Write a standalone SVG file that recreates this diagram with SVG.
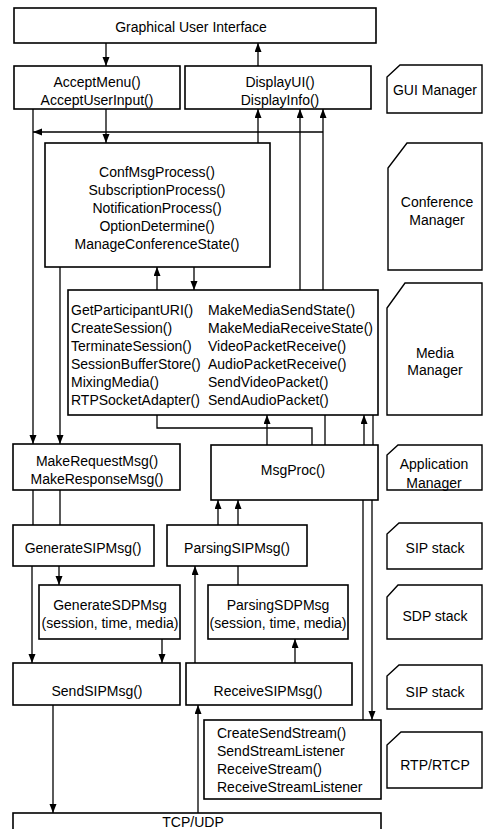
<svg xmlns="http://www.w3.org/2000/svg" width="484" height="829" viewBox="0 0 484 829">
  <style>
    .box { fill: #ffffff; stroke: #000000; stroke-width: 1.6; }
    .tag { fill: #ffffff; stroke: #000000; stroke-width: 1.4; }
    .ln { fill: none; stroke: #000000; stroke-width: 1.3; }
    .arr { fill: none; stroke: #000000; stroke-width: 1.3; marker-end: url(#head); }
    text { font-family: "Liberation Sans", Arial, sans-serif; font-size: 14px; fill: #000000; dominant-baseline: central; }
    .c { text-anchor: middle; }
  </style>
  <defs>
    <marker id="head" markerUnits="userSpaceOnUse" markerWidth="10" markerHeight="8" refX="9" refY="3.5" orient="auto">
      <path d="M0,0 L9,3.5 L0,7 Z" fill="#000000"/>
    </marker>
  </defs>
  <rect width="484" height="829" fill="#ffffff"/>

  <!-- connectors -->
  <g id="connectors">
    <path class="arr" d="M106,43 V66"/>
    <path class="arr" d="M258,66 V43"/>
    <path class="arr" d="M106,109 V143"/>
    <path class="arr" d="M33,109 V444"/>
    <path class="arr" d="M323,132 H33"/>
    <path class="arr" d="M323,290 V109"/>
    <path class="arr" d="M300,290 V109"/>
    <path class="arr" d="M258,143 V109"/>
    <path class="arr" d="M60,267 V444"/>
    <path class="arr" d="M157,290 V267"/>
    <path class="arr" d="M194,267 V290"/>
    <path class="ln" d="M157,415 V428 H312 V445"/>
    <path class="arr" d="M267,445 V415"/>
    <path class="ln" d="M325,415 V445"/>
    <path class="arr" d="M364,445 V415"/>
    <path class="ln" d="M373,415 V445"/>
    <path class="ln" d="M363,500 V720"/>
    <path class="arr" d="M372,500 V720"/>
    <path class="ln" d="M33,490 V525"/>
    <path class="ln" d="M60,490 V525"/>
    <path class="arr" d="M218,525 V500"/>
    <path class="arr" d="M238,525 V500"/>
    <path class="arr" d="M59,566 V585"/>
    <path class="arr" d="M32,566 V663"/>
    <path class="arr" d="M162,639 V663"/>
    <path class="arr" d="M195,663 V566"/>
    <path class="ln" d="M238,566 V585"/>
    <path class="arr" d="M295,663 V639"/>
    <path class="arr" d="M53,705 V813"/>
    <path class="arr" d="M198,813 V705"/>
  </g>

  <!-- component boxes -->
  <g id="gui">
    <rect class="box" x="14" y="8" width="362" height="35"/>
    <text class="c" x="191" y="27">Graphical User Interface</text>
  </g>
  <g id="accept-menu">
    <rect class="box" x="14" y="66" width="166" height="43"/>
    <text class="c" x="97" y="82">AcceptMenu()</text>
    <text class="c" x="97" y="100">AcceptUserInput()</text>
  </g>
  <g id="display-ui">
    <rect class="box" x="185" y="66" width="186" height="43"/>
    <text class="c" x="280" y="82">DisplayUI()</text>
    <text class="c" x="280" y="100">DisplayInfo()</text>
  </g>
  <g id="conference">
    <rect class="box" x="45" y="143" width="225" height="124"/>
    <text class="c" x="157" y="172">ConfMsgProcess()</text>
    <text class="c" x="157" y="190">SubscriptionProcess()</text>
    <text class="c" x="157" y="208">NotificationProcess()</text>
    <text class="c" x="157" y="226">OptionDetermine()</text>
    <text class="c" x="157" y="244">ManageConferenceState()</text>
  </g>
  <g id="media">
    <rect class="box" x="68" y="290" width="310" height="125"/>
    <text x="71" y="310">GetParticipantURI()</text>
    <text x="71" y="328">CreateSession()</text>
    <text x="71" y="346">TerminateSession()</text>
    <text x="71" y="364">SessionBufferStore()</text>
    <text x="71" y="382">MixingMedia()</text>
    <text x="71" y="400">RTPSocketAdapter()</text>
    <text x="208" y="310">MakeMediaSendState()</text>
    <text x="208" y="328">MakeMediaReceiveState()</text>
    <text x="208" y="346">VideoPacketReceive()</text>
    <text x="208" y="364">AudioPacketReceive()</text>
    <text x="208" y="382">SendVideoPacket()</text>
    <text x="208" y="400">SendAudioPacket()</text>
  </g>
  <g id="make-request">
    <rect class="box" x="13" y="444" width="167" height="46"/>
    <text class="c" x="97" y="461">MakeRequestMsg()</text>
    <text class="c" x="97" y="479">MakeResponseMsg()</text>
  </g>
  <g id="msg-proc">
    <rect class="box" x="211" y="445" width="167" height="55"/>
    <text class="c" x="293" y="470">MsgProc()</text>
  </g>
  <g id="generate-sip">
    <rect class="box" x="13" y="525" width="141" height="41"/>
    <text class="c" x="83" y="548">GenerateSIPMsg()</text>
  </g>
  <g id="parsing-sip">
    <rect class="box" x="167" y="525" width="140" height="41"/>
    <text class="c" x="237" y="548">ParsingSIPMsg()</text>
  </g>
  <g id="generate-sdp">
    <rect class="box" x="39" y="585" width="141" height="54"/>
    <text class="c" x="110" y="605">GenerateSDPMsg</text>
    <text class="c" x="110" y="623">(session, time, media)</text>
  </g>
  <g id="parsing-sdp">
    <rect class="box" x="208" y="585" width="140" height="54"/>
    <text class="c" x="278" y="605">ParsingSDPMsg</text>
    <text class="c" x="278" y="623">(session, time, media)</text>
  </g>
  <g id="send-sip">
    <rect class="box" x="13" y="663" width="167" height="42"/>
    <text class="c" x="97" y="691">SendSIPMsg()</text>
  </g>
  <g id="receive-sip">
    <rect class="box" x="186" y="663" width="166" height="42"/>
    <text class="c" x="268" y="691">ReceiveSIPMsg()</text>
  </g>
  <g id="rtp">
    <rect class="box" x="204" y="720" width="177" height="79"/>
    <text x="217" y="733">CreateSendStream()</text>
    <text x="217" y="751">SendStreamListener</text>
    <text x="217" y="769">ReceiveStream()</text>
    <text x="217" y="787">ReceiveStreamListener</text>
  </g>
  <g id="tcp-udp">
    <rect class="box" x="13" y="813" width="368" height="30"/>
    <text class="c" x="193" y="821.5">TCP/UDP</text>
  </g>

  <!-- layer tags -->
  <g id="tag-gui">
    <path class="tag" d="M400,65 H482 V113 H387 V77 Z"/>
    <text class="c" x="435" y="90">GUI Manager</text>
  </g>
  <g id="tag-conference">
    <path class="tag" d="M407,143 H482 V270 H388 V168 Z"/>
    <text class="c" x="437" y="202">Conference</text>
    <text class="c" x="437" y="220">Manager</text>
  </g>
  <g id="tag-media">
    <path class="tag" d="M405,283 H482 V415 H387 V308 Z"/>
    <text class="c" x="435" y="353">Media</text>
    <text class="c" x="435" y="370">Manager</text>
  </g>
  <g id="tag-application">
    <path class="tag" d="M398,445 H482 V490 H387 V455 Z"/>
    <text class="c" x="434" y="464">Application</text>
    <text class="c" x="434" y="483">Manager</text>
  </g>
  <g id="tag-sip-1">
    <path class="tag" d="M399,523 H482 V569 H387 V534 Z"/>
    <text class="c" x="435" y="548">SIP stack</text>
  </g>
  <g id="tag-sdp">
    <path class="tag" d="M398,585 H482 V639 H387 V597 Z"/>
    <text class="c" x="435" y="616">SDP stack</text>
  </g>
  <g id="tag-sip-2">
    <path class="tag" d="M399,665 H482 V709 H387 V676 Z"/>
    <text class="c" x="435" y="692">SIP stack</text>
  </g>
  <g id="tag-rtp">
    <path class="tag" d="M401,732 H482 V788 H387 V745 Z"/>
    <text class="c" x="435" y="765">RTP/RTCP</text>
  </g>
</svg>
